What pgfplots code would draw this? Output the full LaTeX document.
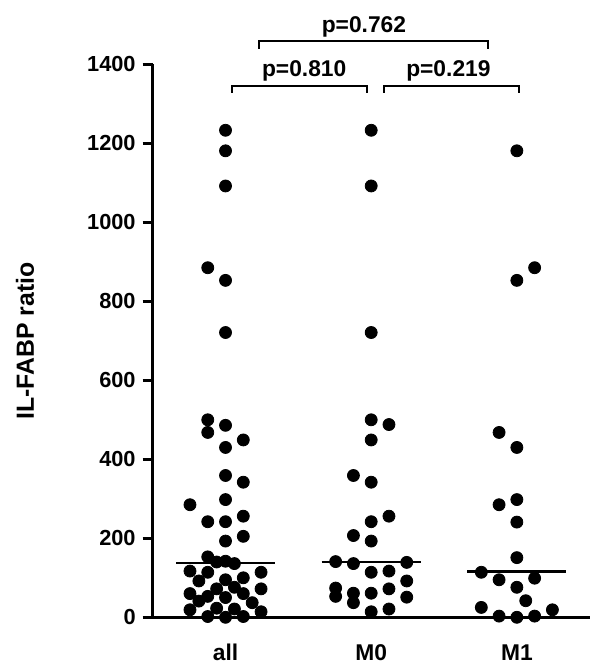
\documentclass[border=0pt]{standalone}
\usepackage{pgfplots}
\pgfplotsset{compat=1.18}
\usepackage{fontspec}
\setmainfont{Liberation Sans}

\begin{document}
\begin{tikzpicture}[font=\fontsize{11.4}{13}\selectfont\bfseries]
\begin{axis}[
  scale only axis,
  width=218.5pt, height=276.5pt,
  xmin=-0.5, xmax=2.5,
  ymin=0, ymax=1400,
  axis x line=bottom, axis y line=left,
  axis line style={-, line width=1.35pt},
  every tick/.style={black, line width=1.35pt},
  tick align=outside, major tick length=5pt,
  xtick={0,1,2}, xticklabels={all,M0,M1},
  xtick style={draw=none},
  xticklabel style={anchor=base, yshift=-16.5pt},
  ytick={0,200,...,1400},
  yticklabel style={font=\fontsize{10.9}{13}\selectfont\bfseries},
  /pgf/number format/assume math mode=true,
  /pgf/number format/1000 sep={},
  clip=false,
]
% individual values
\addplot[only marks, mark=*, mark size=3pt, black] coordinates {
  (0,1233) (0,1181) (0,1092) (-0.122,885) (0,853) (0,721)
  (-0.122,500) (0,486) (-0.122,468) (0.122,449) (0,430) (0,359)
  (0.122,342) (0,298) (-0.244,285) (0.122,256) (-0.122,242) (0,242)
  (0.122,205) (0,193) (-0.122,153) (-0.061,140) (0,142) (0.061,136)
  (-0.244,117) (-0.122,114) (0.244,114) (0.122,100) (-0.183,92) (0,95)
  (0.061,76) (-0.061,72) (0.244,72) (-0.244,60) (0.122,60) (-0.122,53)
  (0,50) (-0.183,41) (0.183,37) (-0.244,19) (-0.061,23) (0.061,21)
  (0.244,14) (-0.122,2) (0,0) (0.122,2)
};
\addplot[only marks, mark=*, mark size=3pt, black] coordinates {
  (1,1233) (1,1092) (1,721) (1,500) (1.122,488) (1,449) (0.878,359)
  (1,342) (1.122,256) (1,242) (0.878,207) (1,193) (0.756,141) (0.878,136)
  (1.244,139) (1,114) (1.122,117) (1.244,92) (0.756,74) (0.756,53)
  (0.878,61) (0.878,37) (1,61) (1.122,72) (1.244,51) (1,14) (1.122,21)
};
\addplot[only marks, mark=*, mark size=3pt, black] coordinates {
  (2,1181) (2.122,885) (2,853) (1.878,468) (2,430) (1.878,285) (2,298)
  (2,241) (2,151) (1.756,114) (1.878,95) (2.122,99) (2,76) (2.061,42)
  (1.756,25) (1.878,3) (2,0) (2.122,3) (2.244,19)
};
% medians
\addplot[black, line width=1.2pt] coordinates {(-0.34,137) (0.34,137)};
\addplot[black, line width=1.2pt] coordinates {(0.66,140) (1.34,140)};
\addplot[black, line width=1.2pt] coordinates {(1.66,116) (2.34,116)};
% significance brackets
\draw[line width=1pt] (axis cs:0.043,1328) -- (axis cs:0.043,1346) -- (axis cs:0.974,1346) -- (axis cs:0.974,1328);
\draw[line width=1pt] (axis cs:1.085,1328) -- (axis cs:1.085,1346) -- (axis cs:2.016,1346) -- (axis cs:2.016,1328);
\draw[line width=1pt] (axis cs:0.23,1439) -- (axis cs:0.23,1460) -- (axis cs:1.80,1460) -- (axis cs:1.80,1439);
\node[anchor=base] at (axis cs:0.54,1368) {p=0.810};
\node[anchor=base] at (axis cs:1.53,1368) {p=0.219};
\node[anchor=base] at (axis cs:0.95,1481) {p=0.762};
\node[rotate=90, font=\fontsize{12.4}{14}\selectfont\bfseries] at ([xshift=-63.85pt]rel axis cs:0,0.5) {IL-FABP ratio};
\coordinate (O) at (rel axis cs:0,0);
\end{axis}
\pgfresetboundingbox
\path[use as bounding box] ([shift={(-76.35pt,-24.35pt)}]O) rectangle ++(300pt,333pt);
\end{tikzpicture}
\end{document}
